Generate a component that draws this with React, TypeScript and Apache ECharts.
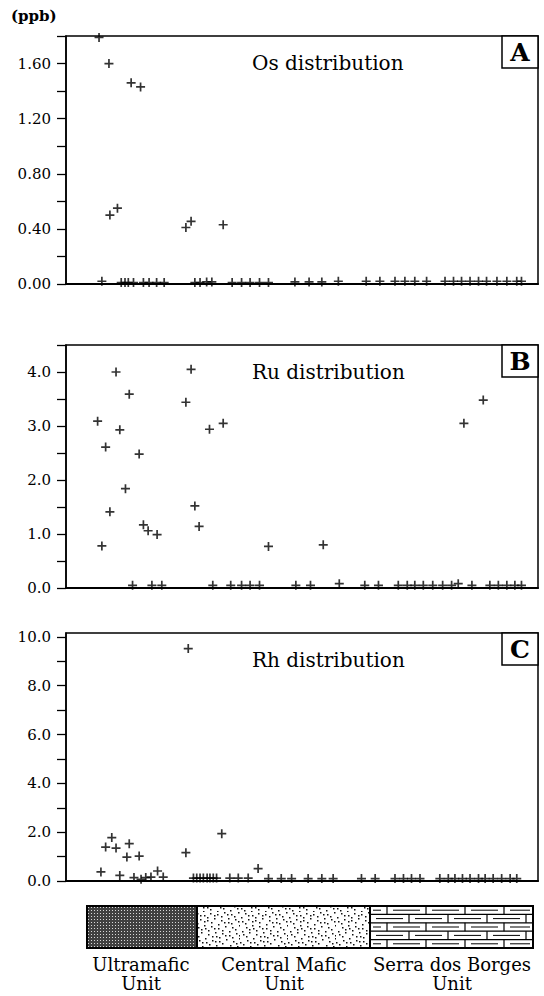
import React, { useEffect, useRef } from "react";
import * as echarts from "echarts";

// Sample positions along the profile (0–100 scale) and concentrations (ppb)
const osPos = [7.0, 7.6, 9.1, 9.3, 10.9, 11.7, 12.5, 13.2, 13.8, 14.3, 15.8, 16.4, 17.6, 19.2, 20.8, 25.4, 26.5, 27.3, 28.4, 29.8, 30.9, 33.3, 35.2, 37.2, 39.0, 41.0, 42.9, 48.5, 51.5, 54.2, 57.7, 63.6, 66.5, 69.7, 71.8, 73.9, 76.4, 80.3, 82.1, 83.8, 85.6, 87.4, 89.1, 91.3, 93.4, 95.5, 96.5];
const osVal = [1.79, 0.02, 1.6, 0.5, 0.55, 0.01, 0.01, 0.01, 1.46, 0.01, 1.43, 0.01, 0.01, 0.01, 0.01, 0.41, 0.455, 0.01, 0.01, 0.015, 0.015, 0.43, 0.01, 0.01, 0.01, 0.01, 0.01, 0.015, 0.015, 0.015, 0.02, 0.02, 0.02, 0.02, 0.02, 0.02, 0.02, 0.02, 0.02, 0.02, 0.02, 0.02, 0.02, 0.02, 0.02, 0.02, 0.02];

const ruPos = [6.7, 7.6, 8.4, 9.3, 10.6, 11.4, 12.6, 13.4, 14.1, 15.5, 16.4, 17.4, 18.2, 19.3, 20.3, 25.4, 26.5, 27.3, 28.2, 30.4, 31.1, 33.3, 34.9, 37.2, 39.0, 41.0, 42.9, 48.7, 51.8, 54.5, 57.9, 63.3, 66.2, 70.4, 72.3, 73.9, 75.7, 77.7, 79.8, 81.7, 83.1, 84.3, 86.0, 88.4, 89.8, 91.6, 93.4, 95.1, 96.5];
const ruVal = [3.09, 0.78, 2.61, 1.41, 4.0, 2.93, 1.84, 3.59, 0.05, 2.48, 1.17, 1.06, 0.05, 0.99, 0.05, 3.44, 4.05, 1.52, 1.14, 2.94, 0.05, 3.05, 0.05, 0.05, 0.05, 0.05, 0.77, 0.05, 0.05, 0.8, 0.08, 0.05, 0.05, 0.05, 0.05, 0.05, 0.05, 0.05, 0.05, 0.05, 0.08, 3.05, 0.05, 3.48, 0.05, 0.05, 0.05, 0.05, 0.05];

const rhPos = [7.4, 8.4, 9.7, 10.6, 11.4, 12.9, 13.4, 14.4, 15.5, 15.9, 16.9, 18.0, 19.4, 20.6, 25.4, 25.9, 27.0, 27.7, 28.4, 29.1, 29.9, 30.5, 31.2, 31.9, 33.0, 34.7, 36.5, 38.6, 40.7, 42.9, 45.6, 47.8, 51.3, 54.2, 56.6, 62.6, 65.5, 69.7, 71.5, 73.2, 75.0, 79.2, 81.0, 82.4, 84.0, 85.6, 87.4, 88.8, 90.5, 92.3, 94.1, 95.5];
const rhVal = [0.37, 1.39, 1.78, 1.35, 0.23, 0.98, 1.53, 0.14, 1.02, 0.07, 0.14, 0.16, 0.41, 0.16, 1.16, 9.52, 0.12, 0.12, 0.12, 0.12, 0.12, 0.12, 0.12, 0.12, 1.94, 0.12, 0.12, 0.12, 0.51, 0.1, 0.1, 0.1, 0.1, 0.1, 0.1, 0.1, 0.1, 0.1, 0.1, 0.1, 0.1, 0.1, 0.1, 0.1, 0.1, 0.1, 0.1, 0.1, 0.1, 0.1, 0.1, 0.1];

const osTicks = [0, 0.2, 0.4, 0.6, 0.8, 1.0, 1.2, 1.4, 1.6, 1.8];
const osLabels = [0, 0.4, 0.8, 1.2, 1.6];
const ruTicks = [0, 0.5, 1.0, 1.5, 2.0, 2.5, 3.0, 3.5, 4.0, 4.5];
const ruLabels = [0, 1, 2, 3, 4];
const rhTicks = [0, 1, 2, 3, 4, 5, 6, 7, 8, 9, 10];
const rhLabels = [0, 2, 4, 6, 8, 10];

const panelTitles = ["Os distribution", "Ru distribution", "Rh distribution"];
const panelLetters = ["A", "B", "C"];
const unitNames = ["Ultramafic\nUnit", "Central Mafic\nUnit", "Serra dos Borges\nUnit"];

const SERIF = "'DejaVu Serif', 'Liberation Serif', serif";
const INK = "#000";
const PLUS = "path://M4.05,0H5.95V4.05H10V5.95H5.95V10H4.05V5.95H0V4.05H4.05Z";

function zip(a: number[], b: number[]) {
  return a.map((x, i) => [x, b[i]]);
}

function stippleCanvas() {
  const c = document.createElement("canvas");
  c.width = 3;
  c.height = 3;
  const g = c.getContext("2d")!;
  g.fillStyle = "#404040";
  g.fillRect(0, 0, 3, 3);
  g.fillStyle = "#d8d8d8";
  g.fillRect(1, 1, 1, 1);
  return c;
}

function dotsCanvas() {
  const s = 48;
  const c = document.createElement("canvas");
  c.width = s;
  c.height = s;
  const g = c.getContext("2d")!;
  g.fillStyle = "#fff";
  g.fillRect(0, 0, s, s);
  g.fillStyle = "#111";
  const a1 = 0.7548776662;
  const a2 = 0.5698402910;
  for (let i = 0; i < 105; i++) {
    const x = ((0.5 + a1 * i) % 1) * s;
    const y = ((0.5 + a2 * i) % 1) * s;
    g.fillRect(Math.floor(x), Math.floor(y), 1.5, 1.5);
  }
  return c;
}

export default function App() {
  const ref = useRef<HTMLDivElement>(null);
  useEffect(() => {
    if (!ref.current) return;
    const chart = echarts.init(ref.current, null, { renderer: "svg" });

    const grids = [
      { left: 66, top: 36, width: 472, height: 248 },
      { left: 66, top: 345, width: 472, height: 243 },
      { left: 66, top: 633, width: 472, height: 248 },
    ];
    const maxes = [1.8, 4.5, 10.16];
    const ticks = [osTicks, ruTicks, rhTicks];
    const labels = [osLabels, ruLabels, rhLabels];
    const digits = [2, 1, 1];
    const datasets = [zip(osPos, osVal), zip(ruPos, ruVal), zip(rhPos, rhVal)];

    const graphic: any[] = [];
    graphic.push({
      type: "text",
      left: 11,
      top: 8,
      style: { text: "(ppb)", font: `bold 15px ${SERIF}`, fill: INK },
    });
    grids.forEach((g, i) => {
      graphic.push({
        type: "text",
        x: 252,
        y: g.top + 27,
        style: {
          text: panelTitles[i],
          font: `20px ${SERIF}`,
          fill: INK,
          verticalAlign: "middle",
          align: "left",
        },
      });
      graphic.push({
        type: "rect",
        shape: { x: 502, y: g.top, width: 36, height: 32 },
        style: { fill: "#fff", stroke: INK, lineWidth: 1.5 },
        z: 10,
      });
      graphic.push({
        type: "text",
        x: 520,
        y: g.top + 16,
        style: {
          text: panelLetters[i],
          font: `bold 25px ${SERIF}`,
          fill: INK,
          align: "center",
          verticalAlign: "middle",
        },
        z: 11,
      });
    });

    // Lithology bar
    const barTop = 906;
    const barH = 42;
    const segs = [87, 197, 370, 533];
    graphic.push({
      type: "rect",
      shape: { x: segs[0], y: barTop, width: segs[1] - segs[0], height: barH },
      style: {
        fill: { image: stippleCanvas(), repeat: "repeat", imageWidth: 3, imageHeight: 3 } as any,
      },
    });
    graphic.push({
      type: "rect",
      shape: { x: segs[1], y: barTop, width: segs[2] - segs[1], height: barH },
      style: {
        fill: { image: dotsCanvas(), repeat: "repeat", imageWidth: 48, imageHeight: 48 } as any,
      },
    });
    // bricks
    const rows = 5;
    const rowH = barH / rows;
    const brickW = 39;
    const bx0 = segs[2];
    const bx1 = segs[3];
    for (let r = 0; r < rows; r++) {
      const y0 = barTop + r * rowH;
      if (r > 0) {
        graphic.push({
          type: "line",
          shape: { x1: bx0, y1: y0, x2: bx1, y2: y0 },
          style: { stroke: INK, lineWidth: 1.2 },
        });
      }
      const off = r % 2 === 0 ? 17 : 0;
      for (let x = bx0 + off - brickW; x < bx1; x += brickW) {
        const jx = x;
        if (jx > bx0 + 1 && jx < bx1 - 1) {
          graphic.push({
            type: "line",
            shape: { x1: jx, y1: y0, x2: jx, y2: y0 + rowH },
            style: { stroke: INK, lineWidth: 1.2 },
          });
        }
        const d1 = Math.max(jx + 6, bx0 + 3);
        const d2 = Math.min(jx + brickW - 6, bx1 - 3);
        if (d2 - d1 > 4) {
          graphic.push({
            type: "line",
            shape: { x1: d1, y1: y0 + rowH / 2, x2: d2, y2: y0 + rowH / 2 },
            style: { stroke: INK, lineWidth: 1 },
          });
        }
      }
    }
    graphic.push({
      type: "rect",
      shape: { x: segs[0], y: barTop, width: segs[3] - segs[0], height: barH },
      style: { fill: "none", stroke: INK, lineWidth: 2 },
      z: 5,
    });
    [segs[1], segs[2]].forEach((sx) => {
      graphic.push({
        type: "line",
        shape: { x1: sx, y1: barTop, x2: sx, y2: barTop + barH },
        style: { stroke: INK, lineWidth: 2 },
        z: 5,
      });
    });
    unitNames.forEach((name, i) => {
      graphic.push({
        type: "text",
        x: [141, 284, 452][i],
        y: 974,
        style: {
          text: name,
          font: `18px ${SERIF}`,
          fill: INK,
          align: "center",
          verticalAlign: "middle",
          lineHeight: 19,
        },
      });
    });

    chart.setOption({
      animation: false,
      backgroundColor: "#fff",
      grid: grids.map((g) => ({
        ...g,
        show: true,
        borderColor: INK,
        borderWidth: 1.5,
        backgroundColor: "transparent",
      })),
      xAxis: grids.map((_, i) => ({
        gridIndex: i,
        type: "value",
        min: 0,
        max: 100,
        axisLabel: { show: false },
        axisTick: { show: false },
        splitLine: { show: false },
        axisLine: { show: true, lineStyle: { color: INK, width: 2 } },
      })),
      yAxis: grids.map((_, i) => ({
        gridIndex: i,
        type: "value",
        min: 0,
        max: maxes[i],
        splitLine: { show: false },
        axisLine: { show: true, lineStyle: { color: INK, width: 1.5 } },
        axisTick: {
          show: true,
          inside: false,
          length: 9,
          customValues: ticks[i],
          lineStyle: { color: INK, width: 1.3 },
        },
        axisLabel: {
          show: true,
          customValues: labels[i],
          formatter: (v: number) => Number(v).toFixed(digits[i]),
          fontFamily: SERIF,
          fontSize: 15,
          color: INK,
          margin: 15,
        },
      })),
      series: datasets.map((d, i) => ({
        type: "scatter",
        xAxisIndex: i,
        yAxisIndex: i,
        data: d,
        symbol: PLUS,
        symbolSize: 9,
        itemStyle: { color: INK },
        z: 3,
      })),
      graphic,
    });
    return () => chart.dispose();
  }, []);
  return (
    <div
      ref={ref}
      style={{ position: "absolute", left: 0, top: 0, width: 544, height: 996 }}
    />
  );
}
